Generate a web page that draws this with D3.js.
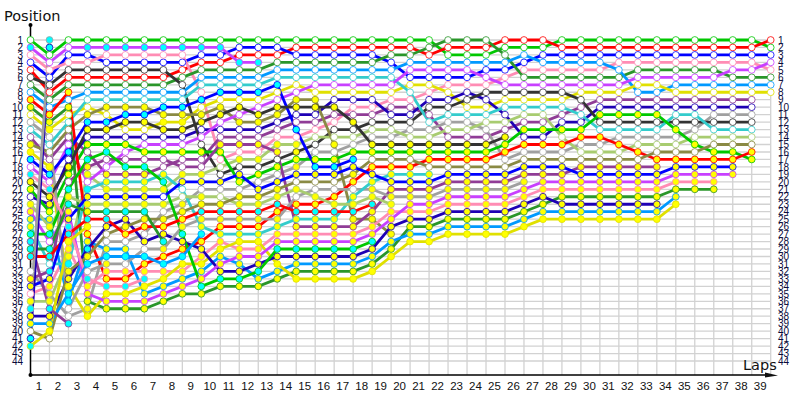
<!DOCTYPE html>
<html><head><meta charset="utf-8">
<script src="https://cdn.jsdelivr.net/npm/d3@7"></script>
<style>html,body{margin:0;padding:0;background:#fff}svg{display:block}</style>
</head><body><svg id="c" width="800" height="400"></svg>
<script>
const palette={G:'#00c800',R:'#ff0000',B:'#0000ff',P:'#ff8cb4',D:'#2a962a',L:'#0099ff',Y:'#e0e000',U:'#903c96',N:'#1e00b4',A:'#a0a0a0',K:'#333333',C:'#33cccc',O:'#a8cc70',E:'#8a8a44',V:'#c840ff'};
const fillColors={w:'#ffffff',y:'#ffff00',c:'#00ffff'};
const carIds=['G1','R1','B1','P1','D1','L1','Y1','U1','N1','A1','K1','C1','O1','E1','V1','G2','R2','B2','P2','D2','L2','Y2','U2','N2','A2','K2','C2','O2','E2','V2','G3','R3','B3','P3','D3','L3','Y3','U3','N3','A3','V3'];
const lapNumbers=d3.range(1,40);
const positionNumbers=d3.range(1,45);
// running order on every lap (index 0 = grid), best position first
const lapOrder=[
"G1 V3 P1 B1 R1 K1 D1 L1 R2 D2 Y1 A2 C1 U1 E1 Y2 B2 V1 P3 K2 G2 N1 O2 V2 L2 C2 G3 U3 D3 R3 - A1 U2 B3 P2 O1 A3 N2 L3 E2 N3 Y3",
"A3 N3 G1 V3 P1 B1 K1 R1 D1 L1 R2 D2 Y1 A2 C1 E1 U1 Y2 B2 V1 P3 K2 N1 G2 L2 O2 G3 V2 D3 R3 C2 U2 B3 P2 A1 O1 U3 N2 L3 Y3 E2",
"G1 V3 B1 P1 K1 R1 D1 R2 L1 D2 Y1 C1 E1 U1 V1 B2 N1 K2 G2 U2 G3 O2 D3 V2 B3 P3 R3 Y3 P2 O1 C2 E2 N2 Y2 L3 L2 A2 A1 U3",
"G1 V3 B1 P1 K1 R1 D1 L1 C1 Y1 E1 B2 K2 N1 G2 U1 G3 U2 O1 V1 C2 B3 O2 D3 R3 Y3 R2 L2 N2 E2 L3 A2 P3 P2 V2 D2 A1 Y2",
"G1 V3 P1 B1 K1 R1 D1 L1 C1 E1 Y1 B2 K2 N1 G2 G3 U2 V1 U1 C2 O1 B3 O2 D3 R3 N2 E2 A1 L2 L3 A2 P2 R2 P3 Y2 V2 D2",
"G1 V3 P1 B1 K1 R1 D1 L1 C1 E1 B2 K2 Y1 N1 G2 V1 U2 G3 U1 C2 O1 B3 O2 D3 N2 E2 R3 A1 L2 L3 A2 P2 R2 P3 Y2 V2 D2",
"G1 V3 P1 B1 K1 R1 D1 L1 C1 E1 B2 K2 Y1 N1 V1 G2 U2 G3 U1 C2 O1 B3 O2 D3 E2 R3 A1 N2 A2 L3 R2 P2 P3 Y2 L2 V2 D2",
"G1 V3 P1 B1 K1 R1 D1 L1 C1 B2 E1 Y1 K2 N1 V1 G2 U2 U1 C2 G3 O1 B3 O2 A1 E2 R3 N2 D3 A2 R2 L3 P2 Y2 L2 V2 D2",
"G1 V3 P1 B1 R1 D1 K1 L1 C1 B2 E1 Y1 K2 N1 V1 G2 U1 U2 O1 B3 C2 O2 A1 E2 R3 A2 G3 N2 R2 L3 Y2 P2 L2 V2 D2",
"G1 V3 B1 R1 D1 L1 C1 P1 B2 Y1 E1 K2 N1 V1 K1 G2 U1 U2 O1 B3 A1 O2 E2 R3 A2 C2 L3 R2 N2 P2 Y2 L2 V2 G3 D2",
"G1 V3 B1 R1 D1 L1 C1 B2 Y1 E1 K2 V1 N1 U1 U2 G2 P1 O1 K1 B3 A1 O2 E2 R3 A2 R2 C2 P2 Y2 L2 V2 N2 G3 D2",
"G1 B1 R1 V3 D1 L1 C1 B2 Y1 K2 V1 E1 N1 U1 U2 P1 O1 K1 B3 G2 A1 E2 O2 R3 A2 R2 C2 Y2 P2 V2 L2 N2 G3 D2",
"G1 B1 R1 V3 D1 L1 C1 B2 Y1 V1 K2 E1 N1 U1 U2 P1 O1 K1 G2 A1 B3 E2 O2 R3 A2 R2 C2 Y2 P2 V2 N2 G3 L2 D2",
"G1 B1 R1 D1 L1 C1 B2 Y1 V1 K2 E1 N1 U1 P1 O1 U2 K1 G2 A1 B3 E2 O2 R3 R2 A2 C2 P2 V2 G3 N2 Y2 L2 D2",
"G1 R1 B1 D1 L1 C1 Y1 V1 E1 K2 N1 U1 B2 P1 O1 K1 G2 A1 B3 E2 O2 A2 R2 R3 C2 U2 P2 V2 G3 N2 L2 D2 Y2",
"G1 R1 B1 D1 L1 C1 V1 Y1 E1 K2 N1 U1 P1 O1 K1 A1 G2 B2 B3 E2 A2 O2 R2 R3 C2 U2 P2 V2 G3 N2 L2 D2 Y2",
"G1 R1 B1 D1 L1 C1 V1 Y1 N1 K2 U1 P1 K1 O1 E1 A1 G2 B2 B3 E2 A2 R2 O2 R3 C2 U2 P2 V2 G3 N2 L2 D2 Y2",
"G1 R1 B1 D1 L1 C1 V1 Y1 N1 P1 U1 K2 K1 O1 A1 G2 B2 B3 E2 R2 A2 C2 O2 R3 E1 U2 P2 V2 G3 N2 L2 D2 Y2",
"G1 R1 B1 D1 L1 C1 V1 Y1 N1 P1 U1 K1 O1 A1 K2 G2 E2 R2 B3 C2 A2 O2 R3 U2 E1 P2 V2 G3 N2 L2 D2 Y2",
"G1 R1 D1 B1 L1 C1 V1 Y1 P1 U1 N1 K1 O1 A1 K2 G2 E2 R2 C2 B3 U2 A2 O2 P2 V2 N2 E1 L2 D2 Y2",
"G1 R1 D1 L1 V1 B1 Y1 C1 P1 U1 N1 K1 A1 O1 K2 G2 E2 R2 C2 B3 U2 A2 V2 P2 N2 D2 L2 Y2",
"G1 D1 R1 L1 V1 B1 Y1 P1 N1 K1 U1 C1 A1 O1 K2 G2 R2 E2 C2 B3 U2 A2 V2 P2 N2 D2 L2 Y2",
"D1 R1 G1 L1 V1 B1 P1 Y1 N1 K1 C1 A1 O1 U1 K2 G2 R2 E2 B3 U2 A2 V2 P2 N2 D2 L2 Y2",
"D1 R1 G1 L1 V1 B1 P1 N1 K1 Y1 C1 A1 O1 U1 K2 G2 R2 E2 B3 U2 A2 V2 P2 N2 D2 L2 Y2",
"D1 R1 G1 L1 B1 V1 P1 K1 N1 Y1 C1 O1 A1 U1 K2 G2 R2 E2 B3 U2 A2 V2 P2 N2 D2 L2 Y2",
"R1 G1 D1 L1 B1 P1 V1 K1 Y1 C1 N1 O1 U1 K2 G2 R2 A1 E2 B3 U2 A2 V2 P2 N2 D2 L2 Y2",
"R1 G1 L1 B1 P1 D1 V1 K1 Y1 C1 O1 U1 G2 N1 R2 A1 E2 B3 U2 A2 V2 P2 N2 D2 L2 Y2",
"R1 G1 B1 L1 P1 D1 V1 K1 Y1 C1 O1 U1 G2 N1 R2 A1 E2 B3 U2 V2 P2 N2 D2 L2 Y2",
"G1 R1 B1 L1 P1 D1 V1 K1 Y1 C1 U1 N1 G2 O1 R2 A1 E2 B3 U2 V2 P2 D2 N2 L2 Y2",
"G1 R1 B1 L1 P1 D1 V1 Y1 K1 U1 C1 N1 G2 R2 A1 O1 E2 U2 B3 V2 P2 D2 N2 L2 Y2",
"G1 R1 B1 L1 P1 D1 V1 Y1 U1 N1 G2 K1 C1 R2 A1 O1 E2 U2 B3 V2 P2 D2 N2 L2 Y2",
"G1 R1 B1 P1 L1 D1 V1 Y1 U1 N1 G2 K1 C1 A1 R2 O1 E2 U2 B3 V2 P2 D2 N2 L2 Y2",
"G1 R1 B1 P1 D1 V1 Y1 L1 U1 N1 G2 K1 C1 A1 O1 R2 E2 U2 B3 V2 P2 D2 N2 L2 Y2",
"G1 R1 B1 P1 D1 V1 Y1 L1 U1 N1 G2 K1 C1 A1 O1 E2 R2 U2 B3 V2 P2 D2 N2 L2 Y2",
"G1 R1 B1 P1 D1 V1 L1 Y1 U1 N1 C1 K1 G2 A1 O1 E2 R2 B3 V2 P2 D2 L2 Y2",
"G1 R1 B1 P1 D1 V1 L1 Y1 U1 N1 C1 K1 A1 O1 G2 E2 R2 B3 V2 P2 D2",
"G1 R1 B1 P1 D1 V1 L1 Y1 U1 N1 A1 K1 C1 O1 E2 G2 R2 B3 V2 P2 D2",
"G1 R1 B1 P1 V1 D1 L1 Y1 U1 N1 A1 K1 C1 O1 E2 G2 R2 B3 V2",
"G1 R1 B1 P1 V1 D1 L1 Y1 U1 N1 A1 K1 C1 O1 E2 R2 G2",
"R1 G1 B1 V1 P1 D1 L1 Y1"
];
// marker state per lap, same order (w = white, y = yellow, c = cyan); anything past the end is y
const lapFill=[
"wcwwwwwwyywwwwyycwcyywyyyycccc-wyywycyywcc",
"ccwwwwwwwwyyywwwwycwcyyyyycwccwcyyyycyyyw",
"wwwwwwwywywwwwwcwyywcycyyccyyycyyyccwwc",
"wcwwwwwwwwycywywcyywcyyycyyycycwcyyyyy",
"wcwwwwwwwywcywycwwyyyyyccywwycyyyc",
"wcwwwwwwwycywwywwcyyyyycyyywycwyyc",
"wcwwwwwwwycywwwywcyyyyycyywywcyyc",
"wcwwwwwwwcyyywwywwycywywyyycyycy",
"wcwwwwwwwcyyywwywwyywwyyyycyyc",
"wcwwwwwwcwyywwwywwyywyycyycyyyyyycy",
"wcwwwwwcwyywwwyywwwywwycyyyyyyyycy",
"wwwcwwwcwywywwywywyywyycyyyyyyyycy",
"wwwcwwwcwwyywwywywywyyycyyyyyyycyy",
"wwwwwwcwwyywwwyywywyyycyyyyycy",
"wwwwwwwwyywwcwyyyyywywycyyyycy",
"wwwwwwwwyywwwwwwycywwyycyyyycy",
"wwwwwwwwwywwwwywycywwyycyyyycy",
"wwwwwwwwwwwywwwycyyywyycyyyycy",
"wwwwwwwwwwwwwwyywyyyyycyyyycyy",
"wwwwwwwwwwwwwwyyw",
"wwwwwwwwwwwwwwyyw",
"wwwwwwwwwwwwwwyyyw",
"wwwwwwwwwwwwwwyyyw",
"wwwwwwwwwwwwwwyyyw",
"wwwwwwwwwwwwwwyyyw",
"wwwwwwwwwwwwwyyyww",
"wwwwwwwwwwwwywyww",
"wwwwwwwwwwwwywyww",
"wwwwwwwwwwwwywyww",
"wwwwwwwwwwwwyywww",
"wwwwwwwwwwywwywww",
"wwwwwwwwwwywwwyww",
"wwwwwwwwwwywwwwyw",
"wwwwwwwwwwywwwwwy",
"wwwwwwwwwwwwywwwy",
"wwwwwwwwwwwwwwywy",
"wwwwwwwwwwwwwwwyy",
"wwwwwwwwwwwwwwwyy",
"wwwwwwwwwwwwwwwyy",
"wwwwwwww"
];

const svg=d3.select('#c');
const x=d3.scaleLinear().domain([0,39]).range([30.5,770.7]);
const y=d3.scaleLinear().domain([1,44]).range([40,361]);
const axisY=375, topY=25;
const fontLabels='"Liberation Sans",sans-serif';
const fontTitles='"DejaVu Sans",sans-serif';

// grid
const grid=svg.append('g').attr('stroke','#d2d2d2').attr('stroke-width',1.3);
grid.selectAll('.h').data(positionNumbers).join('line').attr('class','h')
  .attr('x1',x(0)).attr('x2',x(39)).attr('y1',d=>y(d)).attr('y2',d=>y(d));
grid.selectAll('.v').data(lapNumbers).join('line').attr('class','v')
  .attr('x1',d=>x(d)).attr('x2',d=>x(d)).attr('y1',y(1)).attr('y2',axisY);

// axis lines, under the marks
svg.append('line').attr('x1',x(0)).attr('x2',x(0)).attr('y1',topY).attr('y2',axisY).attr('stroke','#000').attr('stroke-width',1.5);
svg.append('line').attr('x1',x(0)).attr('x2',770).attr('y1',axisY).attr('y2',axisY).attr('stroke','#000').attr('stroke-width',1.5);
svg.append('circle').attr('cx',x(0)).attr('cy',topY).attr('r',2).attr('fill','#000');
svg.append('circle').attr('cx',x(0)).attr('cy',axisY).attr('r',2).attr('fill','#000');
svg.append('path').attr('d',d3.line()([[765,372.5],[778,375.5],[765,377.5]])).attr('fill','#111');

// series
const pointsByCar=new Map(carIds.map(c=>[c,[]]));
lapOrder.forEach((row,lap)=>{
  row.split(' ').forEach((car,i)=>{
    if(car==='-')return;
    pointsByCar.get(car).push({lap,pos:i+1,fill:lapFill[lap][i]||'y'});
  });
});
const line=d3.line().x(d=>x(d.lap)).y(d=>y(d.pos));
const linesLayer=svg.append('g');
const markersLayer=svg.append('g');
carIds.forEach(car=>{
  const color=palette[car[0]];
  const pts=pointsByCar.get(car);
  linesLayer.append('path').attr('d',line(pts)).attr('fill','none').attr('stroke',color).attr('stroke-width',2.8);
  markersLayer.append('g').selectAll('circle').data(pts).join('circle')
    .attr('cx',d=>x(d.lap)).attr('cy',d=>y(d.pos)).attr('r',3.4)
    .attr('fill',d=>fillColors[d.fill]).attr('stroke',color).attr('stroke-width',1).attr('stroke-opacity',.8);
});

// axis labels
const yLeft=svg.append('g').attr('transform',`translate(23,0)`)
  .call(d3.axisLeft(y).tickValues(positionNumbers).tickFormat(d3.format('d')).tickSize(0).tickPadding(0));
const yRight=svg.append('g').attr('transform',`translate(778,0)`)
  .call(d3.axisRight(y).tickValues(positionNumbers).tickFormat(d3.format('d')).tickSize(0).tickPadding(0));
const xAxis=svg.append('g').attr('transform',`translate(-11,${axisY+1})`)
  .call(d3.axisBottom(x).tickValues(lapNumbers).tickFormat(d3.format('d')).tickSize(0).tickPadding(6));
[yLeft,yRight,xAxis].forEach(a=>{a.select('.domain').remove();});
[yLeft,yRight].forEach(a=>a.selectAll('text').attr('font-family',fontLabels).attr('font-size',10).attr('fill','#0a0a3a'));
xAxis.selectAll('text').attr('font-family',fontLabels).attr('font-size',11.5).attr('fill','#111');

svg.append('text').text('Position').attr('x',4).attr('y',21).attr('font-family',fontTitles).attr('font-size',14.5).attr('fill','#111');
svg.append('text').text('Laps').attr('x',743).attr('y',370).attr('font-family',fontTitles).attr('font-size',14.5).attr('fill','#111');
</script></body></html>
